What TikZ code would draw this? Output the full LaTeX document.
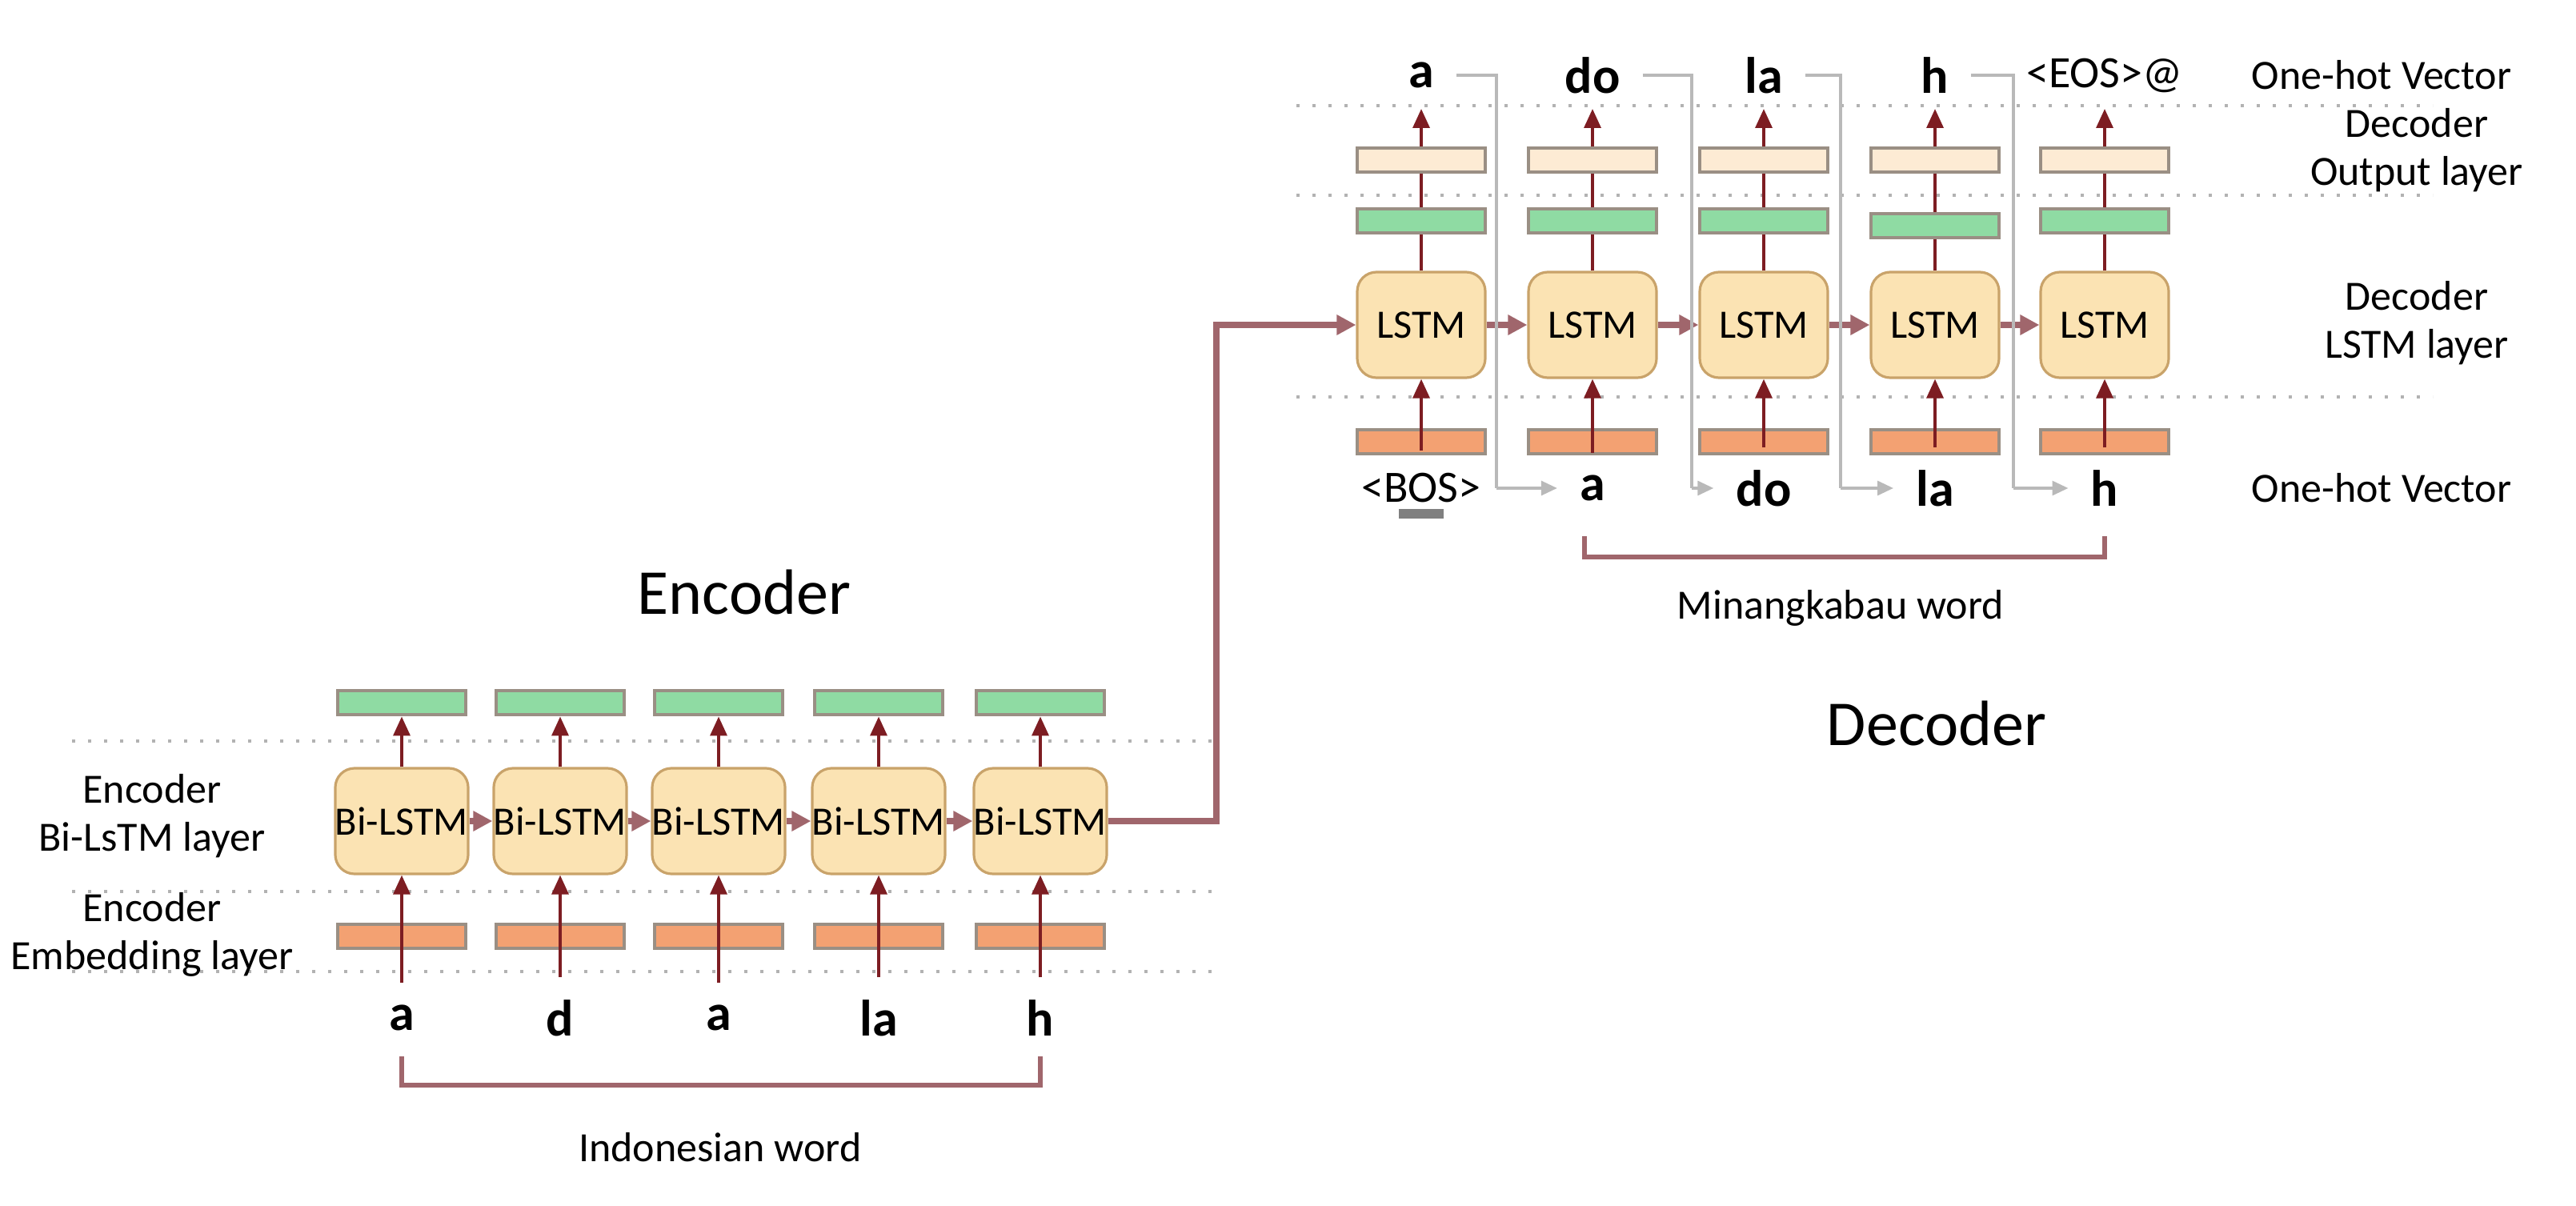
\documentclass[tikz,border=0pt]{standalone}
\usepackage{fontspec}
\setmainfont{Carlito}
\usetikzlibrary{arrows.meta}
\definecolor{lstm}{HTML}{FBE3B3}
\definecolor{lstmb}{HTML}{C9A36A}
\definecolor{grn}{HTML}{8FDBA3}
\definecolor{org}{HTML}{F3A172}
\definecolor{bei}{HTML}{FDEBD4}
\definecolor{barb}{HTML}{9A8F84}
\definecolor{dred}{HTML}{7D1D22}
\definecolor{brk}{HTML}{A0666C}
\begin{document}
\begin{tikzpicture}[x=0.25pt,y=-0.25pt,
 box/.style={draw=lstmb,fill=lstm,rounded corners=3pt,minimum width=80*0.25pt,minimum height=66*0.25pt,inner sep=0pt,font=\fontsize{6.3}{7}\selectfont,line width=0.4pt},
 bar/.style={draw=barb,line width=0.6pt,minimum width=80*0.25pt,minimum height=15*0.25pt,inner sep=0pt},
 gbar/.style={bar,fill=grn}, obar/.style={bar,fill=org}, bbar/.style={bar,fill=bei},
 arr/.style={draw=dred,line width=0.5pt,-{Triangle[length=3pt,width=2.6pt]}},
 harr/.style={draw=brk,line width=1pt,-{Triangle[length=3pt,width=3pt]}},
 dot/.style={draw=gray!60,dotted,line width=0.5pt},
 lab/.style={font=\fontsize{6.5}{7.5}\selectfont,align=center},
 let/.style={font=\fontsize{8}{9}\selectfont\bfseries},
 tok/.style={font=\fontsize{7}{8}\selectfont},
 fb/.style={draw=gray!55,line width=0.5pt},
 fba/.style={fb,-{Triangle[length=2.5pt,width=2.2pt]}}]
\useasboundingbox (0,0) rectangle (1609.5,753.5);
% ---------------- Encoder ----------------
\foreach \y in {463,557,607} \draw[dot] (45,\y) -- (760,\y);
\foreach \i/\x/\w in {1/251/a,2/350/d,3/449/a,4/549/la,5/650/h}{
  \node[gbar] (eg\i) at (\x,439) {};
  \node[box] (eb\i) at (\x,513) {Bi-LSTM};
  \node[obar] (eo\i) at (\x,585) {};
  \node[let] (ew\i) at (\x,636) {\w};
  \draw[arr] (ew\i.north) -- (eb\i.south);
  \draw[arr] (eb\i.north) -- (eg\i.south);
}
\foreach \a/\b in {1/2,2/3,3/4,4/5} \draw[harr] (eb\a.east) -- (eb\b.west);
\coordinate (bl) at (251,660); \coordinate (br) at (650,660);
\draw[brk,line width=0.8pt] (bl) -- ++(0,18) -| (br);
\node[lab] (iw) at (450,717) {Indonesian word};
\node[font=\fontsize{10}{12}\selectfont] (enc) at (465,370) {Encoder};
\node[lab] (l1) at (95,510) {Encoder\\Bi-LsTM layer};
\node[lab] (l2) at (95,584) {Encoder\\Embedding layer};
% ---------------- Decoder ----------------
\foreach \y in {66,122,248} \draw[dot] (810,\y) -- (1520,\y);
\foreach \i/\x/\t/\ts/\b/\bs/\gy in {1/888/a/let/{<BOS>}/tok/138,2/995/do/let/a/let/138,3/1102/la/let/do/let/138,4/1209/h/let/la/let/141,5/1315/{<EOS>@}/tok/h/let/138}{
  \node[\ts] (dt\i) at (\x,47) {\t};
  \node[bbar] (dp\i) at (\x,100) {};
  \node[gbar] (dg\i) at (\x,\gy) {};
  \node[box] (dl\i) at (\x,203) {LSTM};
  \node[obar] (do\i) at (\x,276) {};
  \node[\bs] (dw\i) at (\x,305) {\b};
  \draw[arr] (dw\i.north) -- (dl\i.south);
  \draw[draw=dred,line width=0.5pt] (dl\i.north) -- (dg\i.south) (dg\i.north) -- (dp\i.south);
  \draw[arr] (dp\i.north) -- (\x,68);
}
\draw[gray,line width=1.5pt] (874,321) -- (902,321);
\foreach \a/\b in {1/2,2/3,3/4,4/5} \draw[harr] (dl\a.east) -- (dl\b.west);
\draw[harr] (eb5.east) -- (760,513) |- (dl1.west);
% feedback lines
\foreach \i/\j/\xx in {1/2/935,2/3/1057,3/4/1150,4/5/1258}{
  \draw[fb] (dt\i.east) -- (\xx,47) -- (\xx,305);
  \draw[fba] (\xx,305) -- (dw\j.west);
}
\coordinate (ml) at (990,335); \coordinate (mr) at (1315,335);
\draw[brk,line width=0.8pt] (ml) -- ++(0,13) -| (mr);
\node[lab] (mw) at (1150,380) {Minangkabau word};
\node[font=\fontsize{10}{12}\selectfont] (dec) at (1210,452) {Decoder};
\node[lab] (r1) at (1488,47) {One-hot Vector};
\node[lab] (r2) at (1510,94) {Decoder\\Output layer};
\node[lab] (r3) at (1510,202) {Decoder\\LSTM layer};
\node[lab] (r4) at (1488,305) {One-hot Vector};
\end{tikzpicture}
\end{document}
